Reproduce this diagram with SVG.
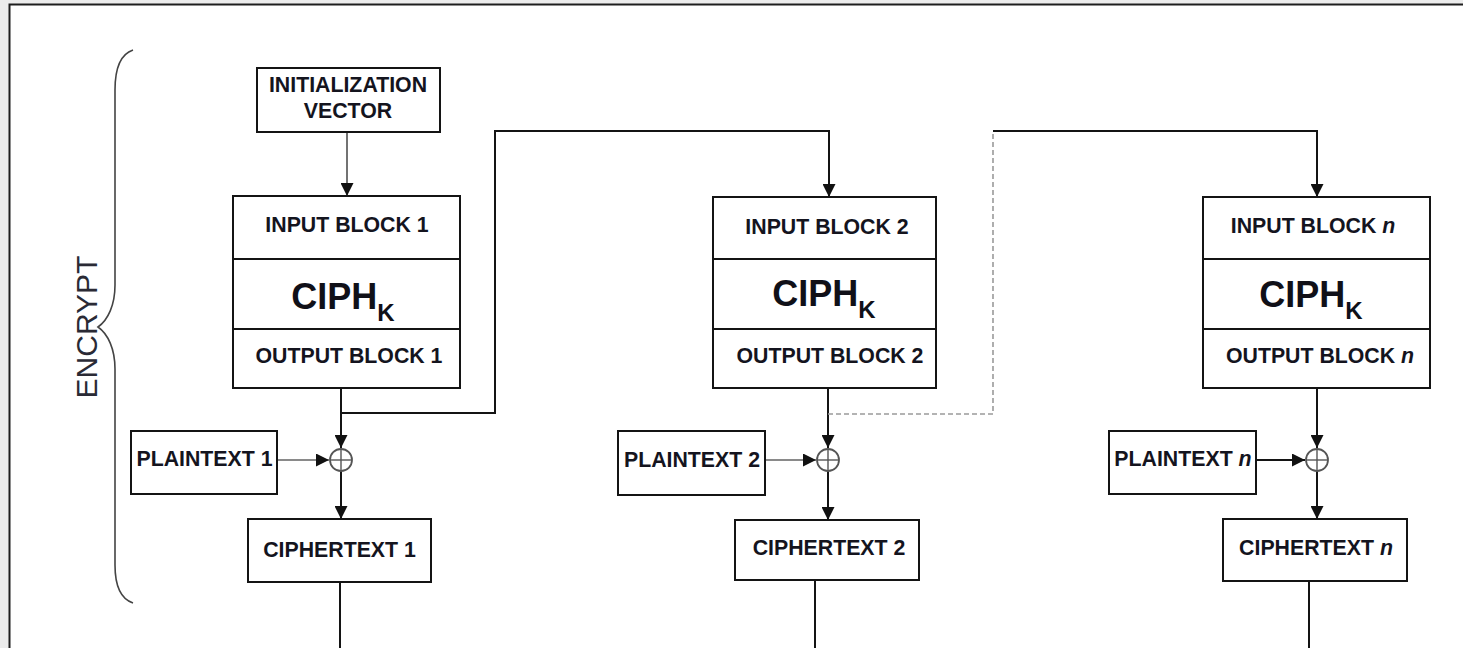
<svg xmlns="http://www.w3.org/2000/svg" width="1463" height="648" viewBox="0 0 1463 648">
  <style>
    .box { fill: #ffffff; stroke: #141414; stroke-width: 2; }
    .div { stroke: #141414; stroke-width: 2; }
    .lbl { font-family: "Liberation Sans", Arial, sans-serif; font-weight: bold; font-size: 21.3px; fill: #14141e; text-anchor: middle; }
    .ciph { font-family: "Liberation Sans", Arial, sans-serif; font-weight: bold; font-size: 36px; fill: #101018; text-anchor: middle; }
    .wire { fill: none; stroke: #141414; stroke-width: 2; }
    .thin { fill: none; stroke: #444444; stroke-width: 1.5; }
    .gray { fill: none; stroke: #8a8a8a; stroke-width: 2; }
    .dash { fill: none; stroke: #9a9a9a; stroke-width: 1.6; stroke-dasharray: 5 3; }
    .xor { fill: #ffffff; stroke: #555555; stroke-width: 1.8; }
    .xorc { stroke: #555555; stroke-width: 1.4; }
  </style>
  <defs>
    <marker id="arrow" markerUnits="userSpaceOnUse" markerWidth="13" markerHeight="13" refX="13" refY="6.5" orient="auto">
      <path d="M0,0 L13,6.5 L0,13 z" fill="#111111"/>
    </marker>
  </defs>

  <!-- page frame -->
  <rect x="0" y="0" width="1463" height="648" fill="#ececec"/>
  <rect x="9" y="4" width="1454" height="644" fill="#ffffff"/>
  <path d="M9.5,648 L9.5,4.5 L1463,4.5" fill="none" stroke="#1e1e1e" stroke-width="2"/>

  <!-- brace with side label -->
  <g id="encrypt-brace">
    <path d="M133,50 C121,54 115,68 115,90 L115,285 C115,305 108,320 98,327 C108,334 115,349 115,369 L115,565 C115,587 121,599 133,603" fill="none" stroke="#444444" stroke-width="1.6"/>
    <text transform="translate(97,327) rotate(-90)" font-family="'Liberation Sans', Arial, sans-serif" font-size="30" fill="#2a2a35" text-anchor="middle">ENCRYPT</text>
  </g>

  <!-- connectors -->
  <g id="connectors">
    <line class="thin" x1="347" y1="132" x2="347" y2="196" marker-end="url(#arrow)"/>
    <!-- stage 1 -->
    <line class="wire" x1="341" y1="388" x2="341" y2="448" marker-end="url(#arrow)"/>
    <polyline class="wire" points="341,413 495,413 495,131 829,131 829,197" marker-end="url(#arrow)"/>
    <line class="gray" x1="277" y1="460" x2="329" y2="460" marker-end="url(#arrow)"/>
    <line class="wire" x1="341" y1="471" x2="341" y2="519" marker-end="url(#arrow)"/>
    <line class="wire" x1="340" y1="582" x2="340" y2="648"/>
    <!-- stage 2 -->
    <line class="wire" x1="828" y1="388" x2="828" y2="448" marker-end="url(#arrow)"/>
    <polyline class="dash" points="828,414 993,414 993,131"/>
    <polyline class="wire" points="993,131 1317,131 1317,197" marker-end="url(#arrow)"/>
    <line class="gray" x1="765" y1="460" x2="816" y2="460" marker-end="url(#arrow)"/>
    <line class="wire" x1="828" y1="471" x2="828" y2="520" marker-end="url(#arrow)"/>
    <line class="wire" x1="815" y1="580" x2="815" y2="648"/>
    <!-- stage n -->
    <line class="wire" x1="1317" y1="388" x2="1317" y2="448" marker-end="url(#arrow)"/>
    <line class="wire" x1="1256" y1="460" x2="1305" y2="460" marker-end="url(#arrow)"/>
    <line class="wire" x1="1317" y1="471" x2="1317" y2="519" marker-end="url(#arrow)"/>
    <line class="wire" x1="1309" y1="581" x2="1309" y2="648"/>
  </g>

  <!-- initialization vector -->
  <g id="iv">
    <rect class="box" x="257" y="68" width="183" height="64"/>
    <text class="lbl" x="348" y="92">INITIALIZATION</text>
    <text class="lbl" x="348" y="118">VECTOR</text>
  </g>

  <!-- cipher stage 1 -->
  <g id="cipher-1">
    <rect class="box" x="233" y="196" width="227" height="192"/>
    <line class="div" x1="233" y1="259" x2="460" y2="259"/>
    <line class="div" x1="233" y1="329" x2="460" y2="329"/>
    <text class="lbl" x="347" y="232">INPUT BLOCK 1</text>
    <text class="ciph" x="343" y="309">CIPH<tspan dy="12" font-size="24">K</tspan></text>
    <text class="lbl" x="349" y="363">OUTPUT BLOCK 1</text>
  </g>
  <g id="xor-1">
    <circle class="xor" cx="341" cy="460" r="11"/>
    <line class="xorc" x1="330" y1="460" x2="352" y2="460"/>
    <line class="xorc" x1="341" y1="449" x2="341" y2="471"/>
  </g>
  <g id="plaintext-1">
    <rect class="box" x="131" y="431" width="146" height="63"/>
    <text class="lbl" x="204.5" y="466">PLAINTEXT 1</text>
  </g>
  <g id="ciphertext-1">
    <rect class="box" x="248" y="519" width="183" height="63"/>
    <text class="lbl" x="339.5" y="557">CIPHERTEXT 1</text>
  </g>

  <!-- cipher stage 2 -->
  <g id="cipher-2">
    <rect class="box" x="713" y="197" width="223" height="191"/>
    <line class="div" x1="713" y1="259" x2="936" y2="259"/>
    <line class="div" x1="713" y1="329" x2="936" y2="329"/>
    <text class="lbl" x="827" y="234">INPUT BLOCK 2</text>
    <text class="ciph" x="824" y="306">CIPH<tspan dy="12" font-size="24">K</tspan></text>
    <text class="lbl" x="830" y="363">OUTPUT BLOCK 2</text>
  </g>
  <g id="xor-2">
    <circle class="xor" cx="828" cy="460" r="11"/>
    <line class="xorc" x1="817" y1="460" x2="839" y2="460"/>
    <line class="xorc" x1="828" y1="449" x2="828" y2="471"/>
  </g>
  <g id="plaintext-2">
    <rect class="box" x="618" y="431" width="147" height="64"/>
    <text class="lbl" x="692" y="467">PLAINTEXT 2</text>
  </g>
  <g id="ciphertext-2">
    <rect class="box" x="735" y="520" width="184" height="60"/>
    <text class="lbl" x="829" y="555">CIPHERTEXT 2</text>
  </g>

  <!-- cipher stage n -->
  <g id="cipher-n">
    <rect class="box" x="1203" y="197" width="227" height="191"/>
    <line class="div" x1="1203" y1="259" x2="1430" y2="259"/>
    <line class="div" x1="1203" y1="329" x2="1430" y2="329"/>
    <text class="lbl" x="1313" y="233">INPUT BLOCK <tspan font-style="italic">n</tspan></text>
    <text class="ciph" x="1311" y="307">CIPH<tspan dy="12" font-size="24">K</tspan></text>
    <text class="lbl" x="1320" y="363">OUTPUT BLOCK <tspan font-style="italic">n</tspan></text>
  </g>
  <g id="xor-n">
    <circle class="xor" cx="1317" cy="460" r="11"/>
    <line class="xorc" x1="1306" y1="460" x2="1328" y2="460"/>
    <line class="xorc" x1="1317" y1="449" x2="1317" y2="471"/>
  </g>
  <g id="plaintext-n">
    <rect class="box" x="1109" y="431" width="147" height="63"/>
    <text class="lbl" x="1183" y="466">PLAINTEXT <tspan font-style="italic">n</tspan></text>
  </g>
  <g id="ciphertext-n">
    <rect class="box" x="1223" y="519" width="184" height="62"/>
    <text class="lbl" x="1316" y="555">CIPHERTEXT <tspan font-style="italic">n</tspan></text>
  </g>
</svg>
